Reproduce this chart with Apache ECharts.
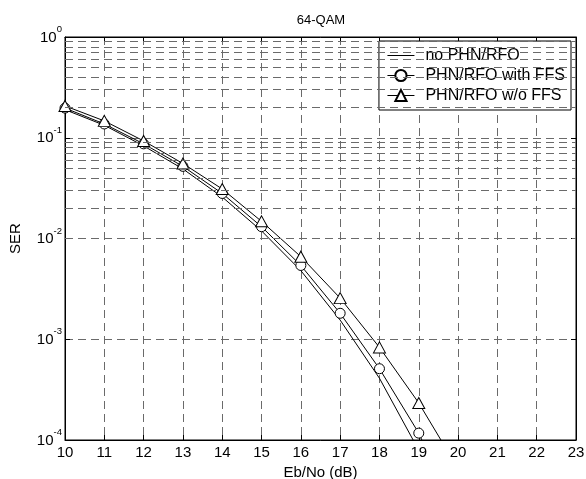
<!DOCTYPE html>
<html>
<head>
<meta charset="utf-8">
<script src="https://cdn.jsdelivr.net/npm/echarts@6/dist/echarts.min.js"></script>
<style>
  html, body { margin: 0; padding: 0; background: #fff; }
  #chart { width: 586px; height: 479px; }
</style>
</head>
<body>
<div id="chart"></div>
<script>
// Eb/No 轴
var ebno = [10, 11, 12, 13, 14, 15, 16, 17, 18, 19, 20];
// 三条 SER 曲线
var noPhn = [0.190, 0.133, 0.083, 0.049, 0.0258, 0.0119, 0.0048, 0.00155, 0.00041, 0.000079, 0.000009];
var withFfs = [0.197, 0.137, 0.087, 0.052, 0.0280, 0.0131, 0.0054, 0.00181, 0.00051, 0.000117, 0.000016];
var woFfs = [0.207, 0.147, 0.093, 0.0555, 0.031, 0.0148, 0.0066, 0.00256, 0.00083, 0.000233, 0.000052];
var seriesNames = ['no PHN/RFO', 'PHN/RFO with FFS', 'PHN/RFO w/o FFS'];
var decades = [-4, -3, -2, -1];
var minorSteps = [2, 3, 4, 5, 6, 7, 8, 9];

function pairs(xs, ys) {
    var out = [];
    for (var i = 0; i < xs.length; i++) {
        out.push([xs[i], ys[i]]);
    }
    return out;
}

// 对数轴的次网格线
var minorLines = [];
for (var i = 0; i < decades.length; i++) {
    for (var j = 0; j < minorSteps.length; j++) {
        minorLines.push({yAxis: minorSteps[j] * Math.pow(10, decades[i])});
    }
}

var font = 'Liberation Sans, Arial, sans-serif';
var gridDash = {color: '#6a6a6a', width: 1, type: [8, 5]};

var myChart = echarts.init(document.getElementById('chart'));
myChart.setOption({
    animation: false,
    backgroundColor: '#fff',
    textStyle: {fontFamily: font, color: '#000'},
    title: {
        text: '64-QAM',
        left: 316,
        textAlign: 'center',
        top: 9,
        textStyle: {fontFamily: font, fontSize: 13, fontWeight: 'normal', color: '#000'}
    },
    grid: {
        left: 65, top: 37, right: 10, bottom: 39,
        outerBoundsMode: 'none',
        containLabel: false,
        show: true, borderColor: '#000', borderWidth: 1, backgroundColor: '#fff'
    },
    legend: {
        orient: 'vertical',
        right: 15,
        top: 41,
        align: 'left',
        backgroundColor: '#fff',
        borderColor: '#000',
        borderWidth: 1,
        borderRadius: 0,
        padding: [6.5, 6, 6.5, 8],
        itemWidth: 27,
        itemHeight: 14,
        itemGap: 4,
        symbolKeepAspect: true,
        lineStyle: {width: 1, color: '#000'},
        textStyle: {fontFamily: font, fontSize: 16, lineHeight: 14, color: '#000', padding: [0, 0, 0, 6]},
        data: [
            {name: seriesNames[0], icon: 'path://M0,0h27v1h-27z', itemStyle: {color: '#000'}},
            {name: seriesNames[1]},
            {name: seriesNames[2]}
        ]
    },
    xAxis: [
        {
            type: 'value',
            min: 10, max: 23, interval: 1,
            name: 'Eb/No (dB)',
            nameLocation: 'middle',
            nameGap: 22,
            nameTextStyle: {fontFamily: font, fontSize: 15, color: '#000'},
            axisLine: {lineStyle: {color: '#000'}},
            axisTick: {inside: true, length: 5, lineStyle: {color: '#000'}},
            axisLabel: {margin: 5, fontFamily: font, fontSize: 15, color: '#000'},
            splitLine: {show: true, lineStyle: gridDash}
        },
        {
            type: 'value', position: 'top',
            min: 10, max: 23, interval: 1,
            axisLine: {lineStyle: {color: '#000'}},
            axisTick: {inside: true, length: 5, lineStyle: {color: '#000'}},
            axisLabel: {show: false},
            splitLine: {show: false}
        }
    ],
    yAxis: [
        {
            type: 'log', logBase: 10,
            min: 1e-4, max: 1, interval: 1,
            name: 'SER',
            nameLocation: 'middle',
            nameGap: 42,
            nameTextStyle: {fontFamily: font, fontSize: 15, color: '#000'},
            axisLine: {lineStyle: {color: '#000'}},
            axisTick: {inside: true, length: 5, lineStyle: {color: '#000'}},
            axisLabel: {
                margin: 3,
                padding: [0, 0, 4.5, 0],
                formatter: function (v) {
                    return '{b|10}{s|' + Math.round(Math.log10(v)) + '}';
                },
                rich: {
                    b: {fontFamily: font, fontSize: 15, color: '#000', verticalAlign: 'bottom'},
                    s: {fontFamily: font, fontSize: 9.5, color: '#000', verticalAlign: 'bottom', padding: [0, 0, 10.5, 0]}
                }
            },
            splitLine: {show: true, lineStyle: gridDash}
        },
        {
            type: 'log', logBase: 10, position: 'right',
            min: 1e-4, max: 1, interval: 1,
            axisLine: {lineStyle: {color: '#000'}},
            axisTick: {inside: true, length: 5, lineStyle: {color: '#000'}},
            axisLabel: {show: false},
            splitLine: {show: false}
        }
    ],
    series: [
        {
            name: 'minor',
            type: 'line',
            data: [],
            silent: true,
            markLine: {
                silent: true,
                symbol: 'none',
                label: {show: false},
                lineStyle: gridDash,
                data: minorLines
            }
        },
        {
            name: seriesNames[0],
            type: 'line',
            data: pairs(ebno, noPhn),
            clip: true,
            showSymbol: false,
            symbol: 'none',
            lineStyle: {color: '#000', width: 1},
            itemStyle: {color: '#000'}
        },
        {
            name: seriesNames[1],
            type: 'line',
            data: pairs(ebno, withFfs),
            clip: true,
            symbol: 'circle',
            symbolSize: 10,
            lineStyle: {color: '#000', width: 1},
            itemStyle: {color: '#fff', borderColor: '#000', borderWidth: 1}
        },
        {
            name: seriesNames[2],
            type: 'line',
            data: pairs(ebno, woFfs),
            clip: true,
            symbol: 'triangle',
            symbolSize: [12, 11],
            lineStyle: {color: '#000', width: 1},
            itemStyle: {color: '#fff', borderColor: '#000', borderWidth: 1}
        }
    ]
});
</script>
</body>
</html>
